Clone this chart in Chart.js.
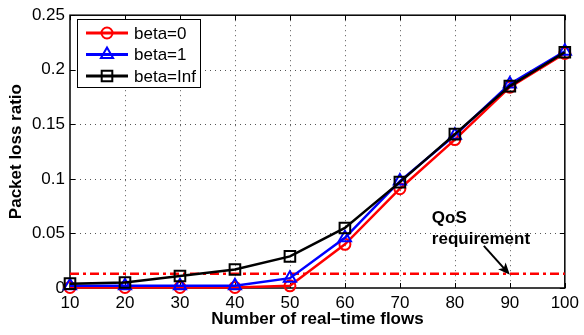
<!DOCTYPE html>
<html>
<head>
<meta charset="utf-8">
<script src="https://cdn.jsdelivr.net/npm/chart.js@4/dist/chart.umd.min.js"></script>
<style>
  html, body { margin: 0; padding: 0; background: #fff; }
  #wrap { width: 584px; height: 335px; }
</style>
</head>
<body>
<div id="wrap"><canvas id="lossChart" width="584" height="335"></canvas></div>
<script>
// number of real-time flows
const flows = [10, 20, 30, 40, 50, 60, 70, 80, 90, 100];
// packet loss ratio per weighting
const lossBeta0 = [0.0005, 0.0005, 0.0005, 0.0005, 0.002, 0.040, 0.091, 0.136, 0.184, 0.215];
const lossBeta1 = [0.002, 0.002, 0.002, 0.002, 0.009, 0.046, 0.098, 0.140, 0.187, 0.217];
const lossBetaInf = [0.004, 0.005, 0.011, 0.017, 0.029, 0.055, 0.097, 0.141, 0.185, 0.216];
const qosLimit = 0.013;
const yTicks = [0, 0.05, 0.1, 0.15, 0.2, 0.25];
const xTicks = [10, 20, 30, 40, 50, 60, 70, 80, 90, 100];

const FONT = '"Liberation Sans", Arial, Helvetica, sans-serif';

function pts(ys) {
  return flows.map((x, i) => ({ x: x, y: ys[i] }));
}

// dotted grid, box frame and inward tick marks
const framePlugin = {
  id: 'frame',
  beforeDatasetsDraw(chart) {
    const { ctx, chartArea: a, scales: { x, y } } = chart;
    ctx.save();
    ctx.strokeStyle = '#555';
    ctx.lineWidth = 1;
    ctx.setLineDash([1, 4]);
    xTicks.slice(1, -1).forEach(v => {
      const px = Math.round(x.getPixelForValue(v)) + 0.5;
      ctx.beginPath(); ctx.moveTo(px, a.top); ctx.lineTo(px, a.bottom); ctx.stroke();
    });
    yTicks.slice(1, -1).forEach(v => {
      const py = Math.round(y.getPixelForValue(v)) + 0.5;
      ctx.beginPath(); ctx.moveTo(a.left, py); ctx.lineTo(a.right, py); ctx.stroke();
    });
    ctx.setLineDash([]);
    ctx.strokeStyle = '#000';
    ctx.lineWidth = 1.5;
    ctx.strokeRect(a.left, a.top, a.right - a.left, a.bottom - a.top);
    ctx.lineWidth = 1;
    const t = 5;
    xTicks.forEach(v => {
      const px = Math.round(x.getPixelForValue(v)) + 0.5;
      ctx.beginPath();
      ctx.moveTo(px, a.bottom); ctx.lineTo(px, a.bottom - t);
      ctx.moveTo(px, a.top); ctx.lineTo(px, a.top + t);
      ctx.stroke();
    });
    yTicks.forEach(v => {
      const py = Math.round(y.getPixelForValue(v)) + 0.5;
      ctx.beginPath();
      ctx.moveTo(a.left, py); ctx.lineTo(a.left + t, py);
      ctx.moveTo(a.right, py); ctx.lineTo(a.right - t, py);
      ctx.stroke();
    });
    ctx.restore();
  }
};

// legend box and QoS annotation with arrow
const overlayPlugin = {
  id: 'overlay',
  afterDraw(chart) {
    const { ctx, scales: { x, y } } = chart;
    ctx.save();

    // legend
    const lx = 77, ly = 19, lw = 123, lh = 68;
    ctx.fillStyle = '#fff';
    ctx.fillRect(lx, ly, lw, lh);
    ctx.strokeStyle = '#000';
    ctx.lineWidth = 1;
    ctx.strokeRect(lx + 0.5, ly + 0.5, lw, lh);
    const entries = chart.data.datasets.slice(0, 3);
    entries.forEach((ds, i) => {
      const cy = ly + 14 + i * 21.5;
      ctx.strokeStyle = ds.borderColor;
      ctx.lineWidth = 3;
      ctx.beginPath(); ctx.moveTo(lx + 9, cy); ctx.lineTo(lx + 51, cy); ctx.stroke();
      ctx.lineWidth = 2;
      ctx.fillStyle = 'rgba(0,0,0,0)';
      Chart.helpers.drawPoint(ctx, {
        pointStyle: ds.pointStyle, radius: ds.pointRadius, borderWidth: 2, rotation: 0
      }, lx + 30, cy);
      ctx.fillStyle = '#000';
      ctx.font = '17px ' + FONT;
      ctx.textBaseline = 'middle';
      ctx.fillText(ds.label, lx + 57, cy + 1);
    });

    // annotation arrow pointing at the QoS line
    const tx = x.getPixelForValue(90), ty = y.getPixelForValue(qosLimit) + 1;
    const sx = tx - 26, sy = ty - 29;
    const ang = Math.atan2(ty - sy, tx - sx);
    ctx.strokeStyle = '#000';
    ctx.fillStyle = '#000';
    ctx.lineWidth = 2;
    ctx.beginPath(); ctx.moveTo(sx, sy); ctx.lineTo(tx - 8 * Math.cos(ang), ty - 8 * Math.sin(ang)); ctx.stroke();
    ctx.beginPath();
    ctx.moveTo(tx, ty);
    ctx.lineTo(tx - 13 * Math.cos(ang - 0.4), ty - 13 * Math.sin(ang - 0.4));
    ctx.lineTo(tx - 9 * Math.cos(ang), ty - 9 * Math.sin(ang));
    ctx.lineTo(tx - 13 * Math.cos(ang + 0.4), ty - 13 * Math.sin(ang + 0.4));
    ctx.closePath();
    ctx.fill();

    ctx.font = 'bold 17px ' + FONT;
    ctx.textBaseline = 'alphabetic';
    ctx.fillText('QoS', tx - 78, ty - 52);
    ctx.fillText('requirement', tx - 78, ty - 31);
    ctx.restore();
  }
};

const ctx = document.getElementById('lossChart').getContext('2d');
const lossChart = new Chart(ctx, {
  type: 'line',
  data: {
    datasets: [{
      label: 'beta=0',
      data: pts(lossBeta0),
      borderColor: '#ff0000',
      pointStyle: 'circle',
      pointRadius: 5.5,
      order: 3
    }, {
      label: 'beta=1',
      data: pts(lossBeta1),
      borderColor: '#0000ff',
      pointStyle: 'triangle',
      pointRadius: 7,
      order: 2
    }, {
      label: 'beta=Inf',
      data: pts(lossBetaInf),
      borderColor: '#000000',
      pointStyle: 'rect',
      pointRadius: 7.5,
      order: 1
    }, {
      label: 'QoS',
      data: [{ x: flows[0], y: qosLimit }, { x: flows[flows.length - 1], y: qosLimit }],
      borderColor: '#ff0000',
      borderWidth: 2.5,
      borderDash: [9, 4, 3, 4],
      pointRadius: 0,
      order: 4
    }]
  },
  options: {
    responsive: false,
    animation: false,
    devicePixelRatio: 1,
    layout: { padding: { top: 13, right: 14, left: 0, bottom: 0 } },
    datasets: {
      line: {
        borderWidth: 2.5,
        pointBorderWidth: 2,
        pointBackgroundColor: 'rgba(0,0,0,0)',
        tension: 0,
        clip: false
      }
    },
    plugins: { legend: { display: false }, tooltip: { enabled: false } },
    scales: {
      x: {
        type: 'linear',
        min: 10,
        max: 100,
        afterBuildTicks: axis => { axis.ticks = xTicks.map(v => ({ value: v })); },
        afterFit: axis => { axis.height = 47; },
        grid: { display: false, drawTicks: false },
        border: { display: false },
        ticks: {
          color: '#000',
          padding: 5,
          maxRotation: 0,
          autoSkip: false,
          font: { family: FONT, size: 17 },
          callback: v => String(v)
        },
        title: {
          display: true,
          text: 'Number of real–time flows',
          color: '#000',
          font: { family: FONT, size: 17, weight: 'bold' },
          padding: { top: 0, bottom: 5 }
        }
      },
      y: {
        min: 0,
        max: 0.25,
        afterBuildTicks: axis => { axis.ticks = yTicks.map(v => ({ value: v })); },
        afterFit: axis => { axis.width = 70; },
        grid: { display: false, drawTicks: false },
        border: { display: false },
        ticks: {
          color: '#000',
          padding: 5,
          font: { family: FONT, size: 17 },
          callback: v => String(v)
        },
        title: {
          display: true,
          text: 'Packet loss ratio',
          color: '#000',
          font: { family: FONT, size: 17, weight: 'bold' },
          padding: { top: 6, bottom: 0 }
        }
      }
    }
  },
  plugins: [framePlugin, overlayPlugin]
});
</script>
</body>
</html>
